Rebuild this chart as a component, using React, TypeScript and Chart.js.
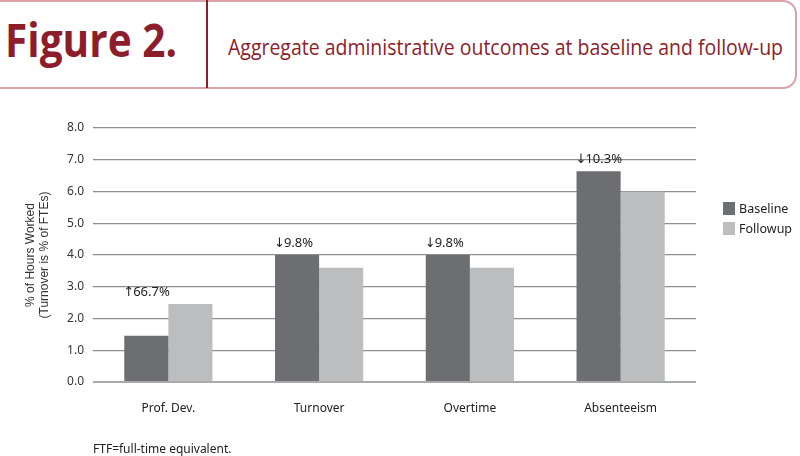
import React, { useEffect, useLayoutEffect, useRef } from "react";
import { Chart, registerables } from "chart.js";

Chart.register(...registerables);

const categories = ["Prof. Dev.", "Turnover", "Overtime", "Absenteeism"];
const baselineValues = [1.46, 4.0, 4.0, 6.64];
const followupValues = [2.46, 3.6, 3.6, 5.99];
const changeArrows = ["\u2191", "\u2193", "\u2193", "\u2193"];
const changeLabels = ["66.7%", "9.8%", "9.8%", "10.3%"];
const yTicks = [0, 1, 2, 3, 4, 5, 6, 7, 8];

const BASE_COLOR = "#6d6e71";
const FOLLOW_COLOR = "#bcbdbf";
const RED = "#8c1d2a";
const PINK = "#d6a3a8";
const FONT = "'Noto Sans', 'Open Sans', sans-serif";

const annotationPlugin = {
  id: "changeAnnotations",
  afterDatasetsDraw(chart: any) {
    const ctx = chart.ctx;
    const m0 = chart.getDatasetMeta(0);
    const m1 = chart.getDatasetMeta(1);
    ctx.save();
    ctx.fillStyle = "#222";
    ctx.textAlign = "left";
    ctx.textBaseline = "bottom";
    changeLabels.forEach((lab, i) => {
      const b = m0.data[i];
      const f = m1.data[i];
      const left = b.x - b.width / 2;
      const top = Math.min(b.y, f.y);
      const y = top - 5;
      ctx.font = `13px 'DejaVu Sans', sans-serif`;
      const arrow = changeArrows[i];
      ctx.fillText(arrow, left - 1, y);
      const aw = ctx.measureText(arrow).width;
      ctx.font = `13px ${FONT}`;
      ctx.fillText(lab, left - 2 + aw, y);
    });
    ctx.restore();
  },
};

const yTitlePlugin = {
  id: "yTitle",
  afterDraw(chart: any) {
    const ctx = chart.ctx;
    const area = chart.chartArea;
    const cy = (area.top + area.bottom) / 2;
    ctx.save();
    ctx.font = `12px 'Liberation Sans', Arial, sans-serif`;
    ctx.fillStyle = "#333";
    ctx.textAlign = "center";
    ctx.textBaseline = "middle";
    ctx.translate(31, cy);
    ctx.rotate(-Math.PI / 2);
    ctx.fillText("% of Hours Worked", 0, 0);
    ctx.fillText("(Turnover is % of FTEs)", 0, 14);
    ctx.restore();
  },
};

export default function App() {
  const canvasRef = useRef<HTMLCanvasElement | null>(null);
  const titleRef = useRef<HTMLSpanElement | null>(null);
  const figRef = useRef<HTMLSpanElement | null>(null);

  useLayoutEffect(() => {
    document.body.style.margin = "0";
    const fit = (el: HTMLSpanElement | null, target: number) => {
      if (!el) return;
      el.style.transform = "none";
      const w = el.getBoundingClientRect().width;
      if (w > 0) el.style.transform = `scaleX(${target / w})`;
    };
    fit(titleRef.current, 555);
    fit(figRef.current, 172);
  }, []);

  useEffect(() => {
    if (!canvasRef.current) return;
    const chart = new Chart(canvasRef.current, {
      type: "bar",
      data: {
        labels: categories,
        datasets: [
          {
            label: "Baseline",
            data: baselineValues,
            backgroundColor: BASE_COLOR,
            categoryPercentage: 0.585,
            barPercentage: 1.0,
          },
          {
            label: "Followup",
            data: followupValues,
            backgroundColor: FOLLOW_COLOR,
            categoryPercentage: 0.585,
            barPercentage: 1.0,
          },
        ],
      },
      options: {
        responsive: false,
        animation: false,
        layout: { padding: { left: 18, right: 104, top: 128, bottom: 0 } },
        plugins: {
          legend: { display: false },
          tooltip: { enabled: false },
          title: { display: false },
        },
        scales: {
          x: {
            grid: { display: false, drawTicks: false },
            border: { display: false },
            ticks: {
              color: "#222",
              font: { family: FONT, size: 12 },
              padding: 19,
            },
            afterFit: (scale: any) => {
              scale.height = 74;
            },
          },
          y: {
            min: 0,
            max: 8,
            afterBuildTicks: (scale: any) => {
              scale.ticks = yTicks.map((v) => ({ value: v }));
            },
            grid: {
              drawTicks: false,
              color: (c: any) => (c.tick && c.tick.value === 0 ? "#a9a9a9" : "#8e8e8e"),
              lineWidth: (c: any) => (c.tick && c.tick.value === 0 ? 2 : 1.3),
            },
            border: { display: false },
            ticks: {
              color: "#333",
              font: { family: FONT, size: 12 },
              padding: 9,
              callback: (v: any) => Number(v).toFixed(1),
            },
            afterFit: (scale: any) => {
              scale.width = 75;
            },
          },
        },
      },
      plugins: [annotationPlugin, yTitlePlugin],
    });
    return () => chart.destroy();
  }, []);

  return (
    <div style={{ position: "relative", width: 800, height: 456, overflow: "hidden", background: "#fff" }}>
      <div
        style={{
          position: "absolute",
          left: -4,
          top: 0,
          width: 801,
          height: 89,
          boxSizing: "border-box",
          border: `2px solid ${PINK}`,
          borderTopRightRadius: 14,
          borderBottomRightRadius: 14,
        }}
      />
      <div style={{ position: "absolute", left: 206, top: 0, width: 1.5, height: 88, background: RED }} />
      <span
        ref={figRef}
        style={{
          position: "absolute",
          left: 5,
          top: 7,
          fontFamily: "'Open Sans', 'Noto Sans', sans-serif",
          fontWeight: 700,
          fontSize: 46,
          lineHeight: "64px",
          color: RED,
          whiteSpace: "nowrap",
          transformOrigin: "0 0",
          display: "inline-block",
        }}
      >
        Figure 2.
      </span>
      <span
        ref={titleRef}
        style={{
          position: "absolute",
          left: 228,
          top: 32,
          fontFamily: "'Open Sans', 'Noto Sans', sans-serif",
          fontWeight: 400,
          fontSize: 21,
          lineHeight: "30px",
          color: RED,
          whiteSpace: "nowrap",
          transformOrigin: "0 0",
          display: "inline-block",
        }}
      >
        Aggregate administrative outcomes at baseline and follow-up
      </span>
      <canvas ref={canvasRef} width={800} height={456} style={{ position: "absolute", left: 0, top: 0, width: 800, height: 456 }} />
      <div style={{ position: "absolute", left: 723, top: 198, fontFamily: FONT, fontSize: 12.5, color: "#222" }}>
        <div style={{ display: "flex", alignItems: "center", height: 20 }}>
          <span style={{ display: "inline-block", width: 12, height: 13, background: BASE_COLOR, marginRight: 4 }} />
          <span>Baseline</span>
        </div>
        <div style={{ display: "flex", alignItems: "center", height: 20 }}>
          <span style={{ display: "inline-block", width: 12, height: 13, background: FOLLOW_COLOR, marginRight: 4 }} />
          <span>Followup</span>
        </div>
      </div>
      <div style={{ position: "absolute", left: 93, top: 440, fontFamily: FONT, fontSize: 12, color: "#222", whiteSpace: "nowrap" }}>
        FTF=full-time equivalent.
      </div>
    </div>
  );
}
